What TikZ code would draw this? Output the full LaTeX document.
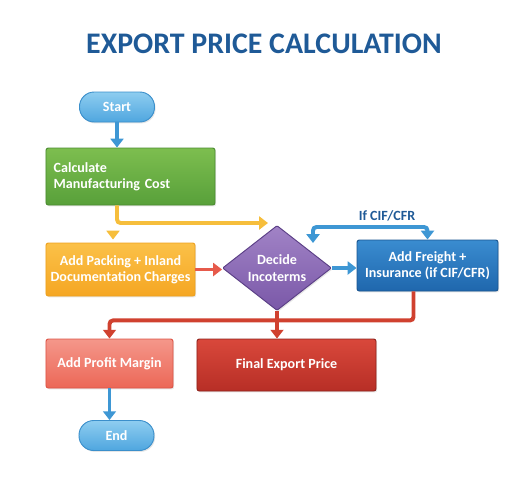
\documentclass[tikz,border=0pt]{standalone}
\usepackage{fontspec}
\setmainfont{Carlito}
\usetikzlibrary{shapes.geometric,arrows.meta,calc,shadows}
\definecolor{titleblue}{HTML}{1F5A97}
\definecolor{termtop}{HTML}{8ECDF0}
\definecolor{termbot}{HTML}{4FA6DF}
\definecolor{termline}{HTML}{3B8FCB}
\definecolor{greentop}{HTML}{7DBE4F}
\definecolor{greenbot}{HTML}{58A03A}
\definecolor{greenline}{HTML}{4A8B30}
\definecolor{yellowtop}{HTML}{FBC148}
\definecolor{yellowbot}{HTML}{F5A623}
\definecolor{yellowline}{HTML}{EDA11E}
\definecolor{purpletop}{HTML}{A183C6}
\definecolor{purplebot}{HTML}{7A58A8}
\definecolor{purpleline}{HTML}{5B3F86}
\definecolor{bluetop}{HTML}{3A8CD0}
\definecolor{bluebot}{HTML}{1F67AD}
\definecolor{blueline}{HTML}{1A5590}
\definecolor{salmontop}{HTML}{F4978A}
\definecolor{salmonbot}{HTML}{EC6757}
\definecolor{salmonline}{HTML}{DD5446}
\definecolor{redtop}{HTML}{D9483B}
\definecolor{redbot}{HTML}{B72E26}
\definecolor{redline}{HTML}{8F231C}
\definecolor{arrowblue}{HTML}{3E97D4}
\definecolor{arrowyellow}{HTML}{F6BE3C}
\definecolor{arrowred}{HTML}{E65A4B}
\definecolor{arrowdark}{HTML}{D0412F}
\tikzset{
  box/.style={rectangle, rounded corners=2pt, line width=0.8pt, text=white,
    font=\bfseries\fontsize{12}{14}\selectfont, align=center, inner sep=2pt,
    drop shadow={opacity=.2,shadow xshift=1pt,shadow yshift=-1.2pt}},
  terminal/.style={box, rounded corners=0.44cm, minimum width=2.25cm, minimum height=0.9cm,
    draw=termline, top color=termtop, bottom color=termbot},
  calcbox/.style={box, draw=greenline, top color=greentop, bottom color=greenbot,
    align=left, text width=4.61cm, inner xsep=0.23cm, minimum height=1.71cm},
  packbox/.style={box, draw=yellowline, top color=yellowtop, bottom color=yellowbot,
    minimum width=4.47cm, minimum height=1.59cm},
  decision/.style={box, diamond, aspect=1.28, rounded corners=1pt, inner sep=0pt,
    minimum width=3.27cm, minimum height=2.55cm,
    draw=purpleline, top color=purpletop, bottom color=purplebot},
  freightbox/.style={box, draw=blueline, top color=bluetop, bottom color=bluebot,
    minimum width=4.23cm, minimum height=1.53cm},
  profitbox/.style={box, draw=salmonline, top color=salmontop, bottom color=salmonbot,
    minimum width=3.81cm, minimum height=1.47cm},
  finalbox/.style={box, draw=redline, top color=redtop, bottom color=redbot,
    minimum width=5.37cm, minimum height=1.56cm},
  heading/.style={text=titleblue, font=\bfseries\fontsize{25.5}{30}\selectfont},
  iflabel/.style={text=titleblue, font=\bfseries\fontsize{12}{14}\selectfont},
  flow/.style={line width=3.4pt, rounded corners=3pt,
    >={Triangle[length=7.5pt,width=11pt]}, ->},
}
\begin{document}
\begin{tikzpicture}[x=0.03cm, y=-0.03cm]
      \useasboundingbox (0,0) rectangle (532,498);
      \draw
        (264,44) node[heading] (title) {EXPORT PRICE CALCULATION}
        (117,107) node[terminal] (start) {Start}
        (130.5,176.5) node[calcbox] (calc) {Calculate\\Manufacturing Cost}
        (120.5,269.5) node[packbox] (pack) {Add Packing + Inland\\Documentation Charges}
        (277,268) node[decision] (decide) {Decide\\Incoterms}
        (427.5,265.5) node[freightbox] (freight) {Add Freight +\\Insurance (if CIF/CFR)}
        (387,216) node[iflabel] (ifcif) {If CIF/CFR}
        (109.5,363.5) node[profitbox] (profit) {Add Profit Margin}
        (286.5,365) node[finalbox] (final) {Final Export Price}
        (116.5,435.5) node[terminal] (finish) {End};
      \coordinate (ytip) at (268,223);
      \coordinate (ytri) at (113,231);
      \coordinate (loopin) at (313,243);
      \begin{scope}[flow]
        \draw[arrowblue] (start.south) -- (start.south |- calc.north);
        \draw[arrowyellow] (calc.south -| start) |- (ytip);
        \draw[arrowyellow] (ytri) -- ($(ytri |- pack.north)+(0,-3)$);
        \draw[arrowred] (pack) -- (pack -| decide.west);
        \draw[arrowblue] (decide.east) -- (decide.east -| freight.west);
        \draw[arrowblue, <->] (loopin) -- ++(0,-16) -| (freight.north);
        \draw[arrowdark] ($(freight.south)+(-14,0)$) -- ++(0,29) -| (profit.north);
        \draw[arrowdark] (decide.south) -- (decide.south |- final.north);
        \draw[arrowblue] (profit.south) -- (profit.south |- finish.north);
      \end{scope}
    \end{tikzpicture}
\end{document}
